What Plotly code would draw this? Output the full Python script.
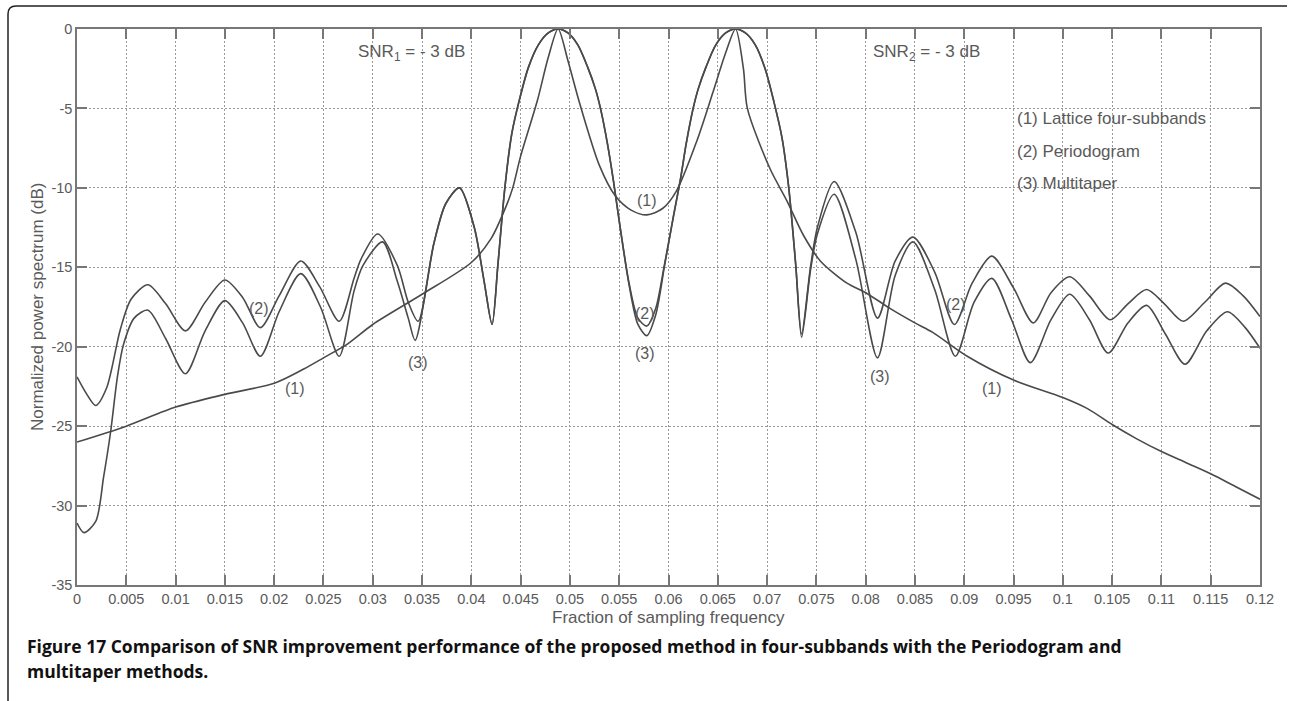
import plotly.graph_objects as go

# ---------------- data ----------------
lattice_x = [0.0, 0.005, 0.010, 0.015, 0.020, 0.023, 0.025, 0.0275, 0.030, 0.035, 0.040, 0.042,
             0.0435, 0.0442, 0.045, 0.0467, 0.0478, 0.0488, 0.0498, 0.051, 0.053, 0.0546, 0.0562,
             0.0578, 0.0594, 0.0608, 0.0629, 0.0645, 0.0658, 0.0668, 0.0676, 0.068, 0.0703, 0.072,
             0.0737, 0.0754, 0.0781, 0.080, 0.0825, 0.085, 0.0868, 0.0903, 0.095, 0.100, 0.1025,
             0.105, 0.1075, 0.110, 0.1125, 0.115, 0.1175, 0.120]
lattice_y = [-26.0, -25.0, -23.8, -23.0, -22.3, -21.4, -20.7, -19.8, -18.6, -16.7, -14.7, -13.2,
             -11.2, -10.0, -8.0, -4.5, -1.8, 0.0, -2.0, -4.7, -8.6, -10.5, -11.4,
             -11.7, -11.3, -10.2, -7.0, -4.0, -1.5, 0.0, -2.5, -5.0, -8.8, -10.8,
             -13.0, -14.6, -16.0, -16.6, -17.6, -18.5, -19.1, -20.6, -22.1, -23.2, -23.9,
             -24.9, -25.8, -26.6, -27.3, -28.0, -28.8, -29.6]

period_x = [0.0, 0.001, 0.0019, 0.003, 0.0044, 0.0055, 0.0072, 0.0090, 0.0110, 0.0130, 0.0150,
            0.0168, 0.0186, 0.0205, 0.0227, 0.0246, 0.0266, 0.0281, 0.0288, 0.0305, 0.0325,
            0.0336, 0.0346, 0.0362, 0.0374, 0.0388, 0.0403, 0.0413, 0.0421, 0.0427, 0.0434,
            0.0441, 0.0449, 0.0458, 0.0468, 0.0478, 0.0488, 0.0498, 0.0508, 0.0518, 0.0526,
            0.0531, 0.0538, 0.0544, 0.0551, 0.0560, 0.0569, 0.0578, 0.0587, 0.0596, 0.0605,
            0.0612, 0.0618, 0.0625, 0.0630, 0.0638, 0.0648, 0.0658, 0.0668, 0.0678, 0.0688,
            0.0698, 0.0707, 0.0715, 0.0722, 0.0729, 0.0735, 0.0744, 0.0751, 0.0768, 0.0790,
            0.0812, 0.0830, 0.0848, 0.0870, 0.0890, 0.0908, 0.0928, 0.0950, 0.0970, 0.0988,
            0.1007, 0.1027, 0.1048, 0.1066, 0.1085, 0.1103, 0.1122, 0.1144, 0.1165, 0.1183, 0.1200]
period_y = [-21.9, -23.0, -23.7, -22.6, -18.9, -17.0, -16.1, -17.3, -19.0, -17.2, -15.8,
            -16.9, -18.8, -16.8, -14.6, -16.2, -18.4, -15.7, -14.5, -12.9, -14.9,
            -17.2, -18.4, -13.5, -11.0, -10.0, -12.5, -15.9, -18.6, -14.8, -10.0,
            -6.6, -4.4, -2.4, -1.0, -0.25, 0.0, -0.25, -1.0, -2.4, -3.8,
            -5.0, -7.2, -9.5, -12.5, -16.0, -18.2, -18.7, -17.6, -14.8, -11.8,
            -9.5, -7.2, -5.0, -3.8, -2.4, -1.0, -0.25, 0.0, -0.25, -1.0,
            -2.5, -4.6, -6.8, -10.0, -14.8, -19.2, -15.0, -12.5, -9.6, -12.8,
            -18.2, -14.6, -13.1, -15.3, -18.6, -16.0, -14.3, -16.3, -18.5, -16.6,
            -15.6, -16.8, -18.3, -17.3, -16.4, -17.3, -18.4, -17.2, -16.0, -16.8, -18.1]

multi_x = [0.0, 0.0007, 0.0019, 0.0027, 0.0034, 0.0041, 0.0047, 0.0058, 0.0072, 0.0090, 0.0110,
           0.0130, 0.0150, 0.0168, 0.0186, 0.0205, 0.0227, 0.0247, 0.0266, 0.0281, 0.0290,
           0.0310, 0.0325, 0.0336, 0.0343, 0.0362, 0.0374, 0.0388, 0.0403, 0.0413, 0.0421,
           0.0427, 0.0434, 0.0441, 0.0449, 0.0458, 0.0468, 0.0478, 0.0488, 0.0498, 0.0508,
           0.0518, 0.0526, 0.0531, 0.0538, 0.0544, 0.0551, 0.0560, 0.0569, 0.0578, 0.0587,
           0.0596, 0.0605, 0.0612, 0.0618, 0.0625, 0.0630, 0.0638, 0.0648, 0.0658, 0.0668,
           0.0678, 0.0688, 0.0698, 0.0707, 0.0715, 0.0722, 0.0729, 0.0735, 0.0744, 0.0751,
           0.0768, 0.0790, 0.0812, 0.0830, 0.0848, 0.0870, 0.0891, 0.0910, 0.0928, 0.0948,
           0.0967, 0.0988, 0.1007, 0.1027, 0.1046, 0.1066, 0.1085, 0.1104, 0.1124, 0.1146,
           0.1167, 0.1185, 0.1200]
multi_y = [-31.1, -31.7, -31.0, -28.2, -25.4, -21.9, -19.9, -18.2, -17.7, -19.5, -21.7,
           -19.0, -17.1, -18.5, -20.6, -17.8, -15.4, -17.5, -20.6, -16.5, -14.9,
           -13.4, -15.9, -18.2, -19.6, -13.5, -11.0, -10.0, -12.5, -15.9, -18.6,
           -14.8, -10.0, -6.6, -4.4, -2.4, -1.0, -0.25, 0.0, -0.25, -1.0,
           -2.4, -3.8, -5.0, -7.2, -9.5, -12.5, -16.1, -18.6, -19.3, -18.0,
           -14.9, -11.8, -9.5, -7.2, -5.0, -3.8, -2.4, -1.0, -0.25, 0.0,
           -0.25, -1.0, -2.5, -4.6, -6.8, -10.0, -14.8, -19.4, -15.2, -12.9,
           -10.4, -14.5, -20.7, -15.5, -13.4, -16.4, -20.6, -17.2, -15.7, -18.3,
           -21.0, -18.3, -16.7, -18.3, -20.4, -18.5, -17.4, -19.2, -21.1, -19.0,
           -17.8, -18.8, -20.1]

x_ticks = [i * 0.005 for i in range(25)]
x_tick_text = ["0", "0.005", "0.01", "0.015", "0.02", "0.025", "0.03", "0.035", "0.04", "0.045",
               "0.05", "0.055", "0.06", "0.065", "0.07", "0.075", "0.08", "0.085", "0.09",
               "0.095", "0.1", "0.105", "0.11", "0.115", "0.12"]
y_ticks = [0, -5, -10, -15, -20, -25, -30, -35]
y_tick_text = ["0", "-5", "-10", "-15", "-20", "-25", "-30", "-35"]

curve_labels = [("(1)", 0.0578, -10.8), ("(1)", 0.0221, -22.6), ("(2)", 0.0185, -17.6),
                ("(3)", 0.0346, -21.0), ("(2)", 0.0576, -17.9), ("(3)", 0.0576, -20.4),
                ("(3)", 0.0815, -21.85), ("(2)", 0.0892, -17.35), ("(1)", 0.0928, -22.6)]
legend_lines = [("(1) Lattice four-subbands", -5.66), ("(2) Periodogram", -7.7), ("(3) Multitaper", -9.7)]

# ---------------- figure ----------------
W, H = 1291, 701
L, R, T, B = 77, 31, 29, 116
pw, ph = W - L - R, H - T - B

def px(xp):
    return (xp - L) / pw

def py(yp):
    return (H - B - yp) / ph

LINE = "#4a4a4a"
TXT = "#5a5a5a"
FONT = "Liberation Sans, Arial, sans-serif"

fig = go.Figure()
for xs, ys in [(lattice_x, lattice_y), (period_x, period_y), (multi_x, multi_y)]:
    fig.add_trace(go.Scatter(x=xs, y=ys, mode="lines",
                             line=dict(color=LINE, width=1.6, shape="spline", smoothing=0.8),
                             showlegend=False, hoverinfo="skip"))

ann = []
for t, x, y in curve_labels:
    ann.append(dict(x=x, y=y, text=t, showarrow=False, font=dict(family=FONT, size=16, color=TXT)))
for t, y in legend_lines:
    ann.append(dict(x=0.0951, y=y, text=t, xanchor="left", yanchor="middle", showarrow=False,
                    font=dict(family=FONT, size=17, color=TXT)))
ann.append(dict(x=0.0283, y=-1.5, text="SNR<sub>1</sub> = - 3 dB", xanchor="left", yanchor="middle",
                showarrow=False, font=dict(family=FONT, size=17, color=TXT)))
ann.append(dict(x=0.0805, y=-1.5, text="SNR<sub>2</sub> = - 3 dB", xanchor="left", yanchor="middle",
                showarrow=False, font=dict(family=FONT, size=17, color=TXT)))
# axis titles
ann.append(dict(xref="paper", yref="paper", x=0.5, y=py(617), xanchor="center", yanchor="middle",
                text="Fraction of sampling frequency",
                showarrow=False, font=dict(family=FONT, size=17, color=TXT)))
ann.append(dict(xref="paper", yref="paper", x=px(37), y=0.5, xanchor="center", yanchor="middle",
                text="Normalized power spectrum (dB)",
                textangle=-90, showarrow=False, font=dict(family=FONT, size=17, color=TXT)))
# caption
CAP = "Open Sans, Lato, sans-serif"
ann.append(dict(xref="paper", yref="paper", x=px(25), y=py(646), xanchor="left", yanchor="middle",
                text="<b>Figure 17 Comparison of SNR improvement performance of the proposed method in four-subbands with the Periodogram and</b>",
                showarrow=False, font=dict(family=CAP, size=17.5, color="#111111")))
ann.append(dict(xref="paper", yref="paper", x=px(25), y=py(671), xanchor="left", yanchor="middle",
                text="<b>multitaper methods.</b>",
                showarrow=False, font=dict(family=CAP, size=17.5, color="#111111")))

# frame with rounded top-left corner
x0, xr = px(8), px(1287)
yt, yb = py(6), py(701)
rx, ry = 8 / pw, 8 / ph
path = f"M {x0},{yb} L {x0},{yt - ry} Q {x0},{yt} {x0 + rx},{yt} L {xr},{yt}"

axis_common = dict(showline=True, linecolor="#777777", linewidth=1.5, mirror="ticks", ticks="inside",
                   ticklen=10, tickcolor="#777777", tickwidth=1.5, showgrid=True, gridcolor="#999999",
                   griddash="1.5px,2.5px", gridwidth=1, zeroline=False,
                   tickfont=dict(family=FONT, size=14.5, color=TXT))

fig.update_layout(
    width=W, height=H, margin=dict(l=L, r=R, t=T, b=B),
    paper_bgcolor="white", plot_bgcolor="white",
    xaxis=dict(range=[0, 0.12], tickvals=x_ticks, ticktext=x_tick_text, **axis_common),
    yaxis=dict(range=[-35, 0], tickvals=y_ticks, ticktext=y_tick_text, **axis_common),
    annotations=ann,
    shapes=[dict(type="path", xref="paper", yref="paper", path=path, line=dict(color="#222222", width=1.5))],
)

fig.write_html("out.html")
